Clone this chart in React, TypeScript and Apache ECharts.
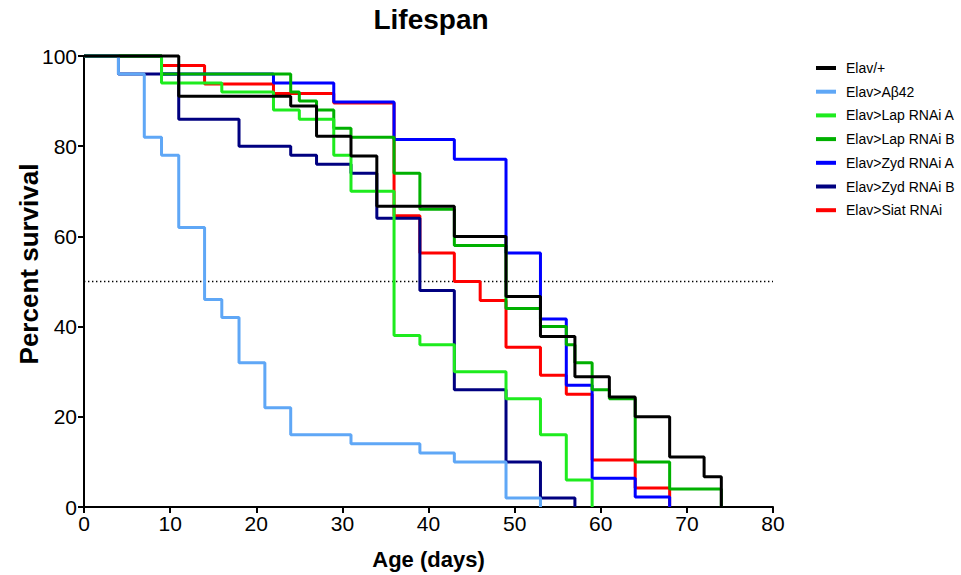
import React, { useEffect, useRef } from "react";
import * as echarts from "echarts";

const seriesNames = [
  "Elav/+",
  "Elav>Aβ42",
  "Elav>Lap RNAi A",
  "Elav>Lap RNAi B",
  "Elav>Zyd RNAi A",
  "Elav>Zyd RNAi B",
  "Elav>Siat RNAi",
];
const seriesColors = ["#000000", "#5FA7F6", "#1EEB1E", "#00B000", "#0000FF", "#000080", "#FF0000"];

const elavDays = [0, 11, 24, 27, 31, 34, 43, 49, 53, 57, 61, 64, 68, 72, 74];
const elavSurv = [100, 91.1, 88.9, 82.2, 77.8, 66.7, 60, 46.7, 37.8, 28.9, 24.4, 20, 11.1, 6.7, 0];

const abDays = [0, 4, 7, 9, 11, 14, 16, 18, 21, 24, 31, 39, 43, 49, 53];
const abSurv = [100, 96, 82, 78, 62, 46, 42, 32, 22, 16, 14, 12, 10, 2, 0];

const lapADays = [0, 9, 16, 22, 25, 29, 31, 36, 39, 43, 49, 53, 56, 59];
const lapASurv = [100, 94, 92, 88, 86, 78, 70, 38, 36, 30, 24, 16, 6, 0];

const lapBDays = [0, 9, 24, 25, 27, 29, 31, 36, 39, 43, 49, 53, 56, 57, 59, 61, 64, 68, 74];
const lapBSurv = [100, 96, 92, 90, 88, 84, 82, 74, 66, 58, 44, 40, 36, 32, 26, 24, 10, 4, 0];

const zydADays = [0, 9, 22, 29, 36, 43, 49, 53, 56, 59, 64, 68];
const zydASurv = [100, 96, 94, 89.8, 81.5, 77.1, 56.3, 41.7, 27, 6.4, 2.2, 0];

const zydBDays = [0, 4, 11, 18, 24, 27, 31, 34, 39, 43, 49, 53, 57];
const zydBSurv = [100, 96, 86, 80, 78, 76, 74, 64, 48, 26, 10, 2, 0];

const siatDays = [0, 9, 14, 22, 29, 36, 39, 43, 46, 49, 53, 56, 59, 64, 68];
const siatSurv = [100, 97.9, 93.8, 91.7, 89.6, 64.6, 56.3, 50, 45.8, 35.4, 29.2, 25, 10.4, 4.2, 0];

const xTicks = [0, 10, 20, 30, 40, 50, 60, 70, 80];
const yTicks = [0, 20, 40, 60, 80, 100];
const medianLine = 50;

const FONT = "Liberation Sans";

export default function App() {
  const ref = useRef<HTMLDivElement>(null);
  useEffect(() => {
    if (!ref.current) return;
    const chart = echarts.init(ref.current, undefined, { renderer: "svg" });
    const all = [
      [elavDays, elavSurv],
      [abDays, abSurv],
      [lapADays, lapASurv],
      [lapBDays, lapBSurv],
      [zydADays, zydASurv],
      [zydBDays, zydBSurv],
      [siatDays, siatSurv],
    ];
    const series: any[] = [];
    // draw in reverse order so Elav/+ is on top
    for (let i = all.length - 1; i >= 0; i--) {
      const [d, s] = all[i];
      const s0: any = {
        name: seriesNames[i],
        type: "line",
        step: "end",
        showSymbol: false,
        symbol: "none",
        clip: false,
        data: d.map((x, k) => [x, s[k]]),
        lineStyle: { color: seriesColors[i], width: 3 },
        itemStyle: { color: seriesColors[i] },
        z: 3,
      };
      if (i === 0) {
        s0.markLine = {
          silent: true,
          symbol: "none",
          label: { show: false },
          lineStyle: { color: "#000", width: 1.3, type: [1.4, 2.6] },
          data: [{ yAxis: medianLine }],
          z: 1,
        };
      }
      series.push(s0);
    }
    chart.setOption({
      animation: false,
      backgroundColor: "#fff",
      title: {
        text: "Lifespan",
        left: 426,
        top: 0,
        textAlign: "center",
        textStyle: { fontSize: 28, fontWeight: "bold", fontFamily: FONT, color: "#000" },
      },
      legend: {
        orient: "vertical",
        left: 816,
        top: 61,
        padding: 0,
        icon: "rect",
        itemWidth: 20,
        itemHeight: 4,
        itemGap: 9.7,
        data: seriesNames,
        textStyle: { fontSize: 14, fontFamily: FONT, color: "#000", lineHeight: 14, padding: [0, 0, 0, 5] },
      },
      grid: { left: 84, right: 188, top: 56, bottom: 65 },
      xAxis: {
        type: "value",
        min: xTicks[0],
        max: xTicks[xTicks.length - 1],
        interval: 10,
        name: "Age (days)",
        nameLocation: "middle",
        nameGap: 41,
        nameTextStyle: { fontSize: 22, fontWeight: "bold", fontFamily: FONT, color: "#000" },
        axisLine: { lineStyle: { color: "#000", width: 2 } },
        axisTick: { show: true, length: 6, lineStyle: { color: "#000", width: 2 } },
        axisLabel: { fontSize: 21, fontFamily: FONT, color: "#000", margin: 6 },
        splitLine: { show: false },
      },
      yAxis: {
        type: "value",
        min: yTicks[0],
        max: yTicks[yTicks.length - 1],
        interval: 20,
        axisLine: { show: true, lineStyle: { color: "#000", width: 2 } },
        axisTick: { show: true, length: 6, lineStyle: { color: "#000", width: 2 } },
        axisLabel: { fontSize: 21, fontFamily: FONT, color: "#000", margin: 7 },
        splitLine: { show: false },
      },
      graphic: [
        {
          type: "text",
          x: 29,
          y: 264,
          rotation: Math.PI / 2,
          style: {
            text: "Percent survival",
            font: `bold 26px "${FONT}"`,
            fill: "#000",
            textAlign: "center",
            textVerticalAlign: "middle",
          },
        },
      ],
      series,
    });
    return () => chart.dispose();
  }, []);
  return (
    <div
      ref={ref}
      style={{ position: "fixed", left: 0, top: 0, width: 961, height: 575, background: "#fff" }}
    />
  );
}
